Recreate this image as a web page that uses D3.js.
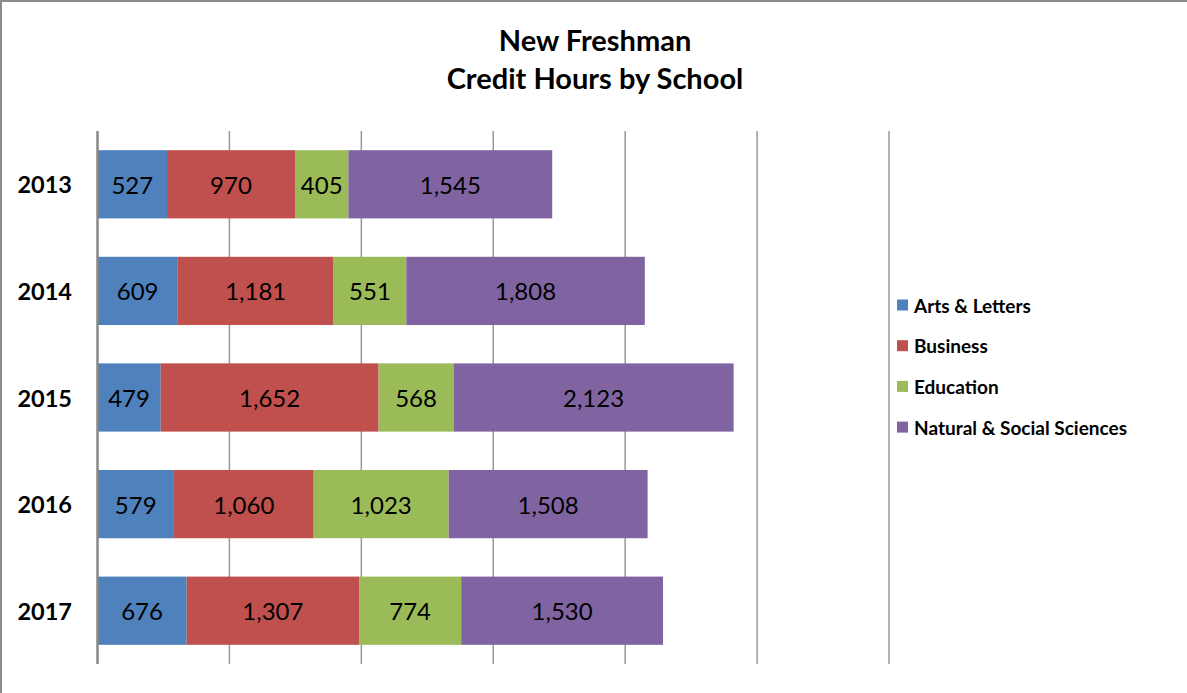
<!DOCTYPE html>
<html><head><meta charset="utf-8">
<script src="https://cdn.jsdelivr.net/npm/d3@7"></script>
<style>body{margin:0;background:#fff}svg{display:block;font-family:Lato,"Open Sans",sans-serif}</style>
</head><body>
<svg id="c" width="1187" height="693"></svg>
<script>
const years = ["2013","2014","2015","2016","2017"];
const seriesNames = ["Arts & Letters","Business","Education","Natural & Social Sciences"];
const artsLetters = [527,609,479,579,676];
const business = [970,1181,1652,1060,1307];
const education = [405,551,568,1023,774];
const naturalSocial = [1545,1808,2123,1508,1530];
const colors = ["#4F81BD","#C0504D","#9BBB59","#8064A2"];
const xTicks = [0,1000,2000,3000,4000,5000,6000];

const svg = d3.select("#c");
svg.append("rect").attr("width",1187).attr("height",693).attr("fill","#fff");
svg.append("line").attr("x1",1).attr("x2",1).attr("y1",0).attr("y2",693).attr("stroke","#8c8c8c").attr("stroke-width",2);
svg.append("line").attr("x1",0).attr("x2",1187).attr("y1",1).attr("y2",1).attr("stroke","#8c8c8c").attr("stroke-width",2);

const x = d3.scaleLinear().domain([0,6000]).range([97.5,889]);
const y = d3.scaleBand().domain(years).range([131,664]).paddingInner(0.36).paddingOuter(0.18);

// gridlines
svg.append("g").selectAll("line").data(xTicks.slice(1)).join("line")
  .attr("x1",d=>x(d)).attr("x2",d=>x(d)).attr("y1",131).attr("y2",664)
  .attr("stroke","#999").attr("stroke-width",1.5);

const stackData = years.map((yr,i)=>{
  const vals=[artsLetters[i],business[i],education[i],naturalSocial[i]];
  const o={year:yr}; seriesNames.forEach((s,j)=>o[s]=vals[j]); return o;});
const stack = d3.stack().keys(seriesNames)(stackData);

const g = svg.append("g");
stack.forEach((layer,j)=>{
  g.append("g").selectAll("rect").data(layer).join("rect")
    .attr("x",d=>x(d[0])).attr("width",d=>x(d[1])-x(d[0]))
    .attr("y",d=>y(d.data.year)).attr("height",y.bandwidth())
    .attr("fill",colors[j]);
  g.append("g").selectAll("text").data(layer).join("text")
    .attr("x",d=>(x(d[0])+x(d[1]))/2).attr("y",d=>y(d.data.year)+y.bandwidth()/2)
    .attr("text-anchor","middle").attr("dominant-baseline","central")
    .attr("font-size",24).attr("fill","#000")
    .text(d=>d3.format(",")(d[1]-d[0]));
});

// axis line
svg.append("line").attr("x1",x(0)).attr("x2",x(0)).attr("y1",131).attr("y2",664)
  .attr("stroke","#888").attr("stroke-width",2.5);

// y labels
svg.append("g").selectAll("text").data(years).join("text")
  .attr("x",72).attr("y",d=>y(d)+y.bandwidth()/2)
  .attr("text-anchor","end").attr("dominant-baseline","central")
  .attr("font-size",23.5).attr("font-weight","bold").text(d=>d);

// title
svg.append("text").attr("x",595).attr("y",51).attr("text-anchor","middle")
  .attr("font-size",29).attr("font-weight","bold").text("New Freshman");
svg.append("text").attr("x",595).attr("y",89).attr("text-anchor","middle")
  .attr("font-size",29).attr("font-weight","bold").text("Credit Hours by School");

// legend
const lg = svg.append("g").selectAll("g").data(seriesNames).join("g")
  .attr("transform",(d,i)=>`translate(897,${305+i*40.7})`);
lg.append("rect").attr("x",0).attr("y",-5.5).attr("width",11).attr("height",11).attr("fill",(d,i)=>colors[i]);
lg.append("text").attr("x",17).attr("y",0).attr("dominant-baseline","central")
  .attr("font-size",19).attr("font-weight","bold").text(d=>d);
</script>
</body></html>
